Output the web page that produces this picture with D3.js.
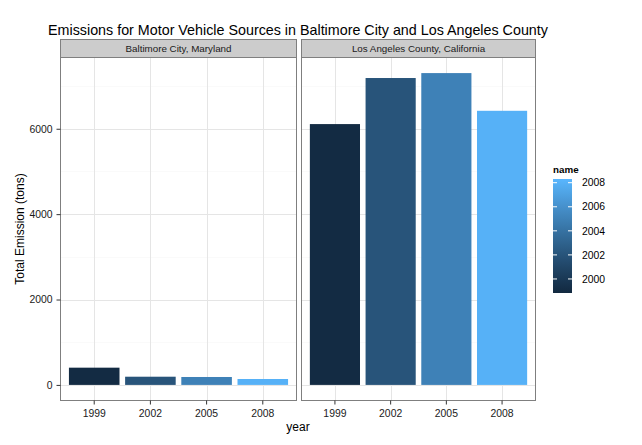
<!DOCTYPE html>
<html><head><meta charset="utf-8">
<script src="https://cdn.jsdelivr.net/npm/d3@7"></script>
<style>body{margin:0;background:#fff}svg{display:block;font-family:"Liberation Sans",Arial,sans-serif}</style>
</head><body><svg id="c" width="642" height="445"></svg>
<script>
const years = ["1999","2002","2005","2008"];
const facets = ["Baltimore City, Maryland","Los Angeles County, California"];
const baltimore = [403.77, 192.01, 185.41, 138.24];
const losAngeles = [6109.69, 7188.68, 7304.12, 6421.02];
const yTicks = [0, 2000, 4000, 6000];
const yMinor = [1000, 3000, 5000, 7000];
const legendTicks = [2000, 2002, 2004, 2006, 2008];
const title = "Emissions for Motor Vehicle Sources in Baltimore City and Los Angeles County";

const svg = d3.select("#c");
const panelTop = 57.5, panelBottom = 400.5, stripTop = 39.5;
const panels = [{x0:60.5,x1:296.5,vals:baltimore},{x0:301.5,x1:535.5,vals:losAngeles}];
const maxV = d3.max(losAngeles.concat(baltimore));
const y = d3.scaleLinear().domain([-0.05*maxV, maxV*1.05]).range([panelBottom, panelTop]);
const color = d3.scaleLinear().domain([1999,2008]).range(["#132B43","#56B1F7"]).interpolate(d3.interpolateLab);

svg.append("text").attr("x",298).attr("y",35).attr("text-anchor","middle").attr("font-size",14.3).attr("fill","#000").text(title);

panels.forEach((p,i)=>{
  const g = svg.append("g");
  const x = d3.scaleBand().domain(years).range([p.x0,p.x1]).paddingInner(0.1).paddingOuter(0.15);
  const xc = d => x(d)+x.bandwidth()/2;
  g.append("rect").attr("x",p.x0).attr("y",panelTop).attr("width",p.x1-p.x0).attr("height",panelBottom-panelTop).attr("fill","#fff");
  yMinor.forEach(v=>g.append("line").attr("x1",p.x0).attr("x2",p.x1).attr("y1",Math.round(y(v))+0.5).attr("y2",Math.round(y(v))+0.5).attr("stroke","#FAFAFA").attr("stroke-width",1));
  yTicks.forEach(v=>g.append("line").attr("x1",p.x0).attr("x2",p.x1).attr("y1",Math.round(y(v))+0.5).attr("y2",Math.round(y(v))+0.5).attr("stroke","#E5E5E5").attr("stroke-width",1));
  years.forEach(d=>g.append("line").attr("x1",Math.round(xc(d))+0.5).attr("x2",Math.round(xc(d))+0.5).attr("y1",panelTop).attr("y2",panelBottom).attr("stroke","#E5E5E5"));
  g.selectAll("rect.bar").data(years).enter().append("rect").attr("class","bar")
    .attr("x",d=>x(d)).attr("width",x.bandwidth())
    .attr("y",(d,j)=>y(p.vals[j])).attr("height",(d,j)=>y(0)-y(p.vals[j]))
    .attr("fill",d=>color(+d));
  g.append("rect").attr("x",p.x0).attr("y",panelTop).attr("width",p.x1-p.x0).attr("height",panelBottom-panelTop).attr("fill","none").attr("stroke","#7F7F7F");
  g.append("rect").attr("x",p.x0).attr("y",stripTop).attr("width",p.x1-p.x0).attr("height",panelTop-stripTop).attr("fill","#CCCCCC").attr("stroke","#7F7F7F");
  g.append("text").attr("x",(p.x0+p.x1)/2).attr("y",(stripTop+panelTop)/2+3.5).attr("text-anchor","middle").attr("font-size",9.8).attr("fill","#1A1A1A").text(facets[i]);
  const ax = g.append("g").attr("transform",`translate(0,${panelBottom})`).call(d3.axisBottom(x).tickSize(4).tickPadding(5));
  ax.select(".domain").remove();
  ax.selectAll("line").attr("stroke","#333");
  ax.selectAll("text").attr("font-size",10.4).attr("fill","#1A1A1A").attr("font-family","Liberation Sans, Arial, sans-serif");
});

const ay = svg.append("g").attr("transform",`translate(${panels[0].x0},0)`).call(d3.axisLeft(y).tickValues(yTicks).tickFormat(d3.format("d")).tickSize(4).tickPadding(4));
ay.select(".domain").remove();
ay.selectAll("line").attr("stroke","#333");
ay.selectAll("text").attr("font-size",10.4).attr("fill","#1A1A1A").attr("font-family","Liberation Sans, Arial, sans-serif");

svg.append("text").attr("x",298).attr("y",431).attr("text-anchor","middle").attr("font-size",12).text("year");
svg.append("text").attr("transform","translate(24,229) rotate(-90)").attr("text-anchor","middle").attr("font-size",12).text("Total Emission (tons)");

// legend
const lx = 553, lw = 19, lTop = 179, lBot = 293;
const ly = d3.scaleLinear().domain([1999,2008]).range([291,182.7]);
const defs = svg.append("defs");
const grad = defs.append("linearGradient").attr("id","lg").attr("x1",0).attr("x2",0).attr("y1",1).attr("y2",0);
d3.range(0,1.0001,0.1).forEach(t=>grad.append("stop").attr("offset",t).attr("stop-color",color(ly.invert(lBot - t*(lBot-lTop)))));
svg.append("text").attr("x",lx).attr("y",173).attr("font-size",9.8).attr("font-weight","bold").text("name");
svg.append("rect").attr("x",lx).attr("y",lTop).attr("width",lw).attr("height",lBot-lTop).attr("fill","url(#lg)");
legendTicks.forEach(v=>{
  const yy = ly(v);
  svg.append("line").attr("x1",lx).attr("x2",lx+4).attr("y1",yy).attr("y2",yy).attr("stroke","#fff");
  svg.append("line").attr("x1",lx+lw-4).attr("x2",lx+lw).attr("y1",yy).attr("y2",yy).attr("stroke","#fff");
  svg.append("text").attr("x",lx+lw+10).attr("y",yy+3.7).attr("font-size",10.4).attr("fill","#000").text(v);
});
</script></body></html>
